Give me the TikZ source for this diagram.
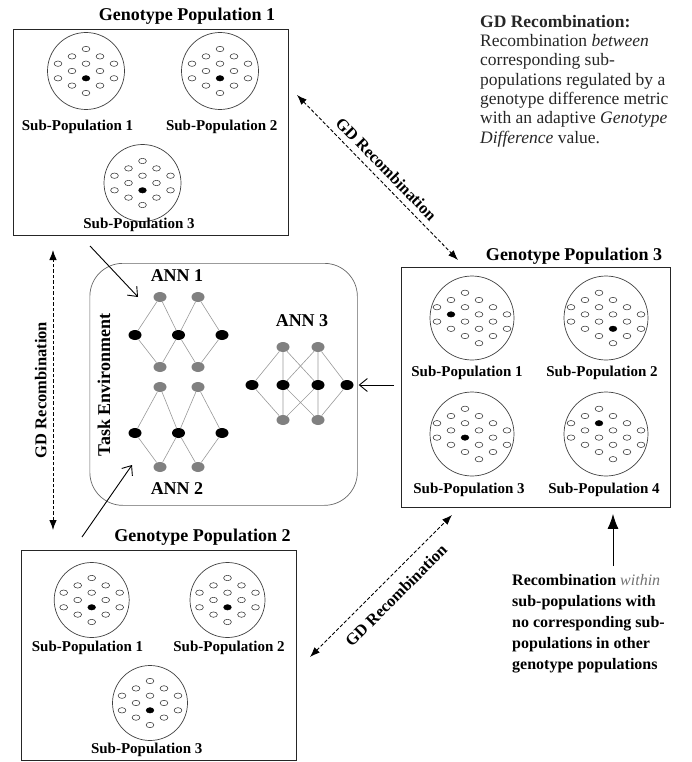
\documentclass[tikz,border=0pt]{standalone}
\usepackage{fontspec}
\setmainfont{Liberation Serif}
\usetikzlibrary{arrows.meta,shapes.geometric}
\newcommand\myfsb[2]{\fontsize{#1}{#2}\selectfont}
% pattern A: 14 dots (populations 1 and 2)
\newcommand\spdotsA[3]{%
  \begin{scope}[shift={(#1.center)}]
    \foreach \px/\py in {0/-22,-14/-14.6,14/-14.6,-28/-7.3,0/-7.3,28/-7.3,-14/0,14/0,-28/7.3,0/7.3,28/7.3,-14/14.6,14/14.6,0/22}
      \draw[sdot] (\px,\py) ellipse [x radius=3.9pt, y radius=2.7pt];
    \fill[black] (#2,#3) ellipse [x radius=3.9pt, y radius=2.8pt];
  \end{scope}}
% pattern B: 18 dots (population 3)
\newcommand\spdotsB[3]{%
  \begin{scope}[shift={(#1.center)}]
    \foreach \px/\py in {-7/-25.2,-21/-18,7/-18,-35/-10.8,-7/-10.8,21/-10.8,-21/-3.6,7/-3.6,35/-3.6,-35/3.6,-7/3.6,21/3.6,-21/10.8,7/10.8,35/10.8,-7/18,21/18,7/25.2}
      \draw[sdot] (\px,\py) ellipse [x radius=3.9pt, y radius=2.7pt];
    \fill[black] (#2,#3) ellipse [x radius=3.9pt, y radius=2.8pt];
  \end{scope}}
\begin{document}
\begin{tikzpicture}[x=1pt,y=-1pt,
  popbox/.style={draw=black!85, line width=0.9pt, inner sep=0, anchor=north west},
  subcirc/.style={circle, draw=black!75, line width=0.7pt, inner sep=0},
  sdot/.style={draw=black!80, line width=0.55pt},
  titletext/.style={font=\myfsb{18}{21}\bfseries, inner sep=0, anchor=base},
  sublabel/.style={font=\myfsb{15}{18}\bfseries, inner sep=0, anchor=base},
  gnode/.style={ellipse, fill=black!50, minimum width=13pt, minimum height=10pt, inner sep=0},
  bnode/.style={ellipse, fill=black, minimum width=13pt, minimum height=10pt, inner sep=0},
  annedge/.style={draw=black!40, line width=0.6pt},
  gdarrow/.style={line width=0.9pt, dash pattern=on 3.5pt off 2pt, {Latex[length=10pt,width=7.5pt]}-{Latex[length=10pt,width=7.5pt]}},
  gdlabel/.style={font=\myfsb{16.5}{19}\bfseries, inner sep=3pt},
  feed/.style={line width=0.9pt, -{Straight Barb[length=8pt,width=13pt]}},
]
\useasboundingbox (0,0) rectangle (692,762);

% ---------- Genotype Population 1 ----------
\node[titletext] (t1) at (187,21) {Genotype Population 1};
\node[popbox, minimum width=275.5pt, minimum height=206pt] (gp1) at (12.5,29) {};
\node[subcirc, minimum size=77pt] (c11) at (86,71) {};
\node[subcirc, minimum size=77pt] (c12) at (220,71) {};
\node[subcirc, minimum size=77pt] (c13) at (142.5,183) {};
\spdotsA{c11}{0}{7.3}
\spdotsA{c12}{0}{7.3}
\spdotsA{c13}{0}{7.3}
\node[sublabel] (l11) at (77.5,131) {Sub-Population 1};
\node[sublabel] (l12) at (221.7,131) {Sub-Population 2};
\node[sublabel] (l13) at (139,228) {Sub-Population 3};

% ---------- Genotype Population 2 ----------
\node[titletext] (t2) at (202.5,541.5) {Genotype Population 2};
\node[popbox, minimum width=275.5pt, minimum height=210pt] (gp2) at (20.5,550) {};
\node[subcirc, minimum size=75pt] (c21) at (91.7,600) {};
\node[subcirc, minimum size=75pt] (c22) at (227.5,600) {};
\node[subcirc, minimum size=75pt] (c23) at (150,703) {};
\spdotsA{c21}{0}{7.3}
\spdotsA{c22}{0}{7.3}
\spdotsA{c23}{0}{7.3}
\node[sublabel] (l21) at (87.5,651.7) {Sub-Population 1};
\node[sublabel] (l22) at (229,651.7) {Sub-Population 2};
\node[sublabel] (l23) at (146.7,753) {Sub-Population 3};

% ---------- Genotype Population 3 ----------
\node[titletext] (t3) at (574,260) {Genotype Population 3};
\node[popbox, minimum width=269pt, minimum height=240pt] (gp3) at (401,267) {};
\node[subcirc, minimum size=84pt] (c31) at (472,318) {};
\node[subcirc, minimum size=84pt] (c32) at (606,318) {};
\node[subcirc, minimum size=84pt] (c33) at (472,434) {};
\node[subcirc, minimum size=84pt] (c34) at (606,434) {};
\spdotsB{c31}{-21}{-3.6}
\spdotsB{c32}{7}{10.8}
\spdotsB{c33}{-7}{3.6}
\spdotsB{c34}{-7}{-10.8}
\node[sublabel] (l31) at (467,376.7) {Sub-Population 1};
\node[sublabel] (l32) at (602,376.7) {Sub-Population 2};
\node[sublabel] (l33) at (469,493) {Sub-Population 3};
\node[sublabel] (l34) at (604,493) {Sub-Population 4};

% ---------- Task environment ----------
\node[draw=black!60, line width=0.7pt, rounded corners=33pt, minimum width=267.5pt,
      minimum height=242pt, anchor=north west, inner sep=0] (env) at (89.5,263) {};
\node[font=\myfsb{18}{21}\bfseries, rotate=90, inner sep=0] (envl) at (104,385) {Task Environment};

% ANN 1
\node[titletext] (ann1) at (177,281) {ANN 1};
\node[gnode] (a1t1) at (160,297) {};
\node[gnode] (a1t2) at (198,297) {};
\node[bnode] (a1m1) at (135,335) {};
\node[bnode] (a1m2) at (178.5,335) {};
\node[bnode] (a1m3) at (222,335) {};
\node[gnode] (a1b1) at (160,367) {};
\node[gnode] (a1b2) at (198,367) {};
\draw[annedge] (a1t1) -- (a1m1) (a1t1) -- (a1m2) (a1t2) -- (a1m2) (a1t2) -- (a1m3)
               (a1b1) -- (a1m1) (a1b1) -- (a1m2) (a1b2) -- (a1m2) (a1b2) -- (a1m3);

% ANN 2
\node[titletext] (ann2) at (177,494) {ANN 2};
\node[gnode] (a2t1) at (160,387) {};
\node[gnode] (a2t2) at (198,387) {};
\node[bnode] (a2m1) at (135,433) {};
\node[bnode] (a2m2) at (178.5,433) {};
\node[bnode] (a2m3) at (222,433) {};
\node[gnode] (a2b1) at (160,467) {};
\node[gnode] (a2b2) at (198,467) {};
\draw[annedge] (a2t1) -- (a2m1) (a2t1) -- (a2m2) (a2t2) -- (a2m2) (a2t2) -- (a2m3)
               (a2b1) -- (a2m1) (a2b1) -- (a2m2) (a2b2) -- (a2m2) (a2b2) -- (a2m3);

% ANN 3
\node[titletext] (ann3) at (302,326) {ANN 3};
\node[gnode] (a3t1) at (283,347) {};
\node[gnode] (a3t2) at (318,347) {};
\node[bnode] (a3m1) at (252,385) {};
\node[bnode] (a3m2) at (283,385) {};
\node[bnode] (a3m3) at (318,385) {};
\node[bnode] (a3m4) at (347,385) {};
\node[gnode] (a3b1) at (283,420) {};
\node[gnode] (a3b2) at (318,420) {};
\draw[annedge] (a3m1) -- (a3t1) (a3m1) -- (a3b1)
               (a3t1) -- (a3m2) (a3t1) -- (a3m3) (a3t2) -- (a3m2) (a3t2) -- (a3m3) (a3t2) -- (a3m4)
               (a3b1) -- (a3m2) (a3b1) -- (a3m3) (a3b2) -- (a3m2) (a3b2) -- (a3m3) (a3b2) -- (a3m4);

% ---------- feed arrows ----------
\coordinate (f1s) at (90,246);
\coordinate (f1e) at (138,297);
\draw[feed] (f1s) -- (f1e);
\coordinate (f2s) at (82,537);
\coordinate (f2e) at (132,465);
\draw[feed] (f2s) -- (f2e);
\draw[feed] ([xshift=-7pt]gp3.west |- a3m4) -- ([xshift=5pt]a3m4.east);

% ---------- GD recombination arrows ----------
\coordinate (g1a) at (297,95);
\coordinate (g3a) at (458,260);
\draw[gdarrow] (g1a) -- node[midway, sloped, above=3pt, gdlabel] (gdl1) {GD Recombination} (g3a);
\coordinate (gv1) at (53,530);
\coordinate (gv2) at (53,250);
\draw[gdarrow] (gv1) -- node[midway, sloped, above=3pt, gdlabel] (gdl2) {GD Recombination} (gv2);
\coordinate (g2a) at (310,657);
\coordinate (g3b) at (452,515);
\draw[gdarrow] (g2a) -- node[pos=0.52, sloped, below=8pt, gdlabel] (gdl3) {GD Recombination} (g3b);

% ---------- notes ----------
\node[anchor=north west, inner sep=0, align=left, font=\myfsb{17.5}{19.3}, text=black!85] (gdnote) at (480,15)
  {\textbf{GD Recombination:}\\Recombination \textit{between}\\corresponding sub-\\populations regulated by a\\genotype difference metric\\with an adaptive \textit{Genotype}\\\textit{Difference} value.};
\coordinate (rb) at (613,566);
\draw[line width=1pt, -{Latex[length=15pt,width=11pt]}] (rb) -- ([yshift=-6pt]rb |- gp3.south);
\node[anchor=north west, inner sep=0, align=left, font=\myfsb{16}{21}\bfseries] (withinnote) at (512,574)
  {Recombination {\mdseries\itshape\color{black!55}within}\\sub-populations with\\no corresponding sub-\\populations in other\\genotype populations};
\end{tikzpicture}
\end{document}
